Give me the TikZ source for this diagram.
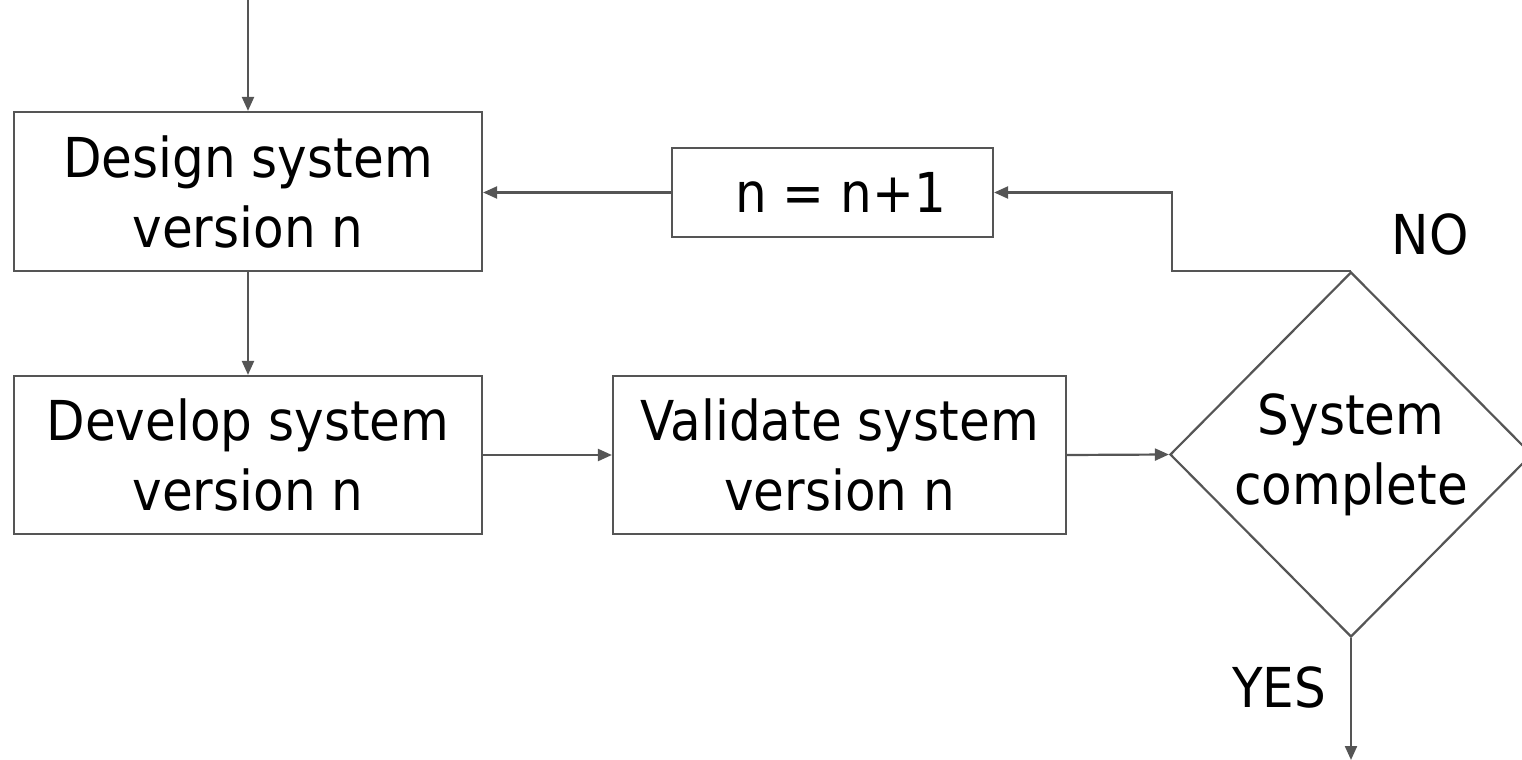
\documentclass[tikz,border=0pt]{standalone}
\usepackage{fontspec}
\setmainfont[FakeStretch=0.91]{DejaVu Sans}
\usetikzlibrary{arrows.meta,shapes.geometric}
\definecolor{lc}{HTML}{555555}
\begin{document}
\begin{tikzpicture}[x=0.5pt,y=-0.5pt,
  lbl/.style={font=\fontsize{27.5pt}{35pt}\selectfont, text=black},
  box/.style={draw=lc, line width=1.1pt, align=center, inner sep=0pt,
    font=\fontsize{27.5pt}{35pt}\selectfont},
  flow/.style={draw=lc, line width=1.1pt, -{Triangle[length=7pt,width=6pt]}}]
\useasboundingbox (0,0) rectangle (1522,760);
\node[box, minimum width=234pt, minimum height=79.5pt] (design) at (248,191.5) {Design system\\version n};
\node[box, minimum width=234pt, minimum height=79pt] (develop) at (248,455) {Develop system\\version n};
\node[box, minimum width=226.5pt, minimum height=79pt] (validate) at (839.5,455) {Validate system\\version n};
\node[box, minimum width=160.5pt, minimum height=44.5pt] (inc) at (832.5,192.5) {\hspace{8pt}n = n+1};
\node[box, shape=diamond, aspect=1, minimum width=181pt, minimum height=182.5pt] (done) at (1351,454.5) {System\\complete};
\node[lbl] (no) at (1430,234) {NO};
\node[lbl] (yes) at (1279,687) {YES};
\coordinate (start) at (248,0);
\coordinate (bend) at (1172,192.5);
\coordinate (out) at (1351,760);
\draw[flow] (start) -- (design.north);
\draw[flow] (design.south) -- (develop.north);
\draw[flow] (develop.east) -- (validate.west);
\draw[flow] (validate.east) -- (done.west);
\draw[flow] (inc.west) -- (inc.west -| design.east);
\draw[flow] (done.north) -| (bend) -- (inc.east);
\draw[flow] (done.south) -- (out);
\end{tikzpicture}
\end{document}
